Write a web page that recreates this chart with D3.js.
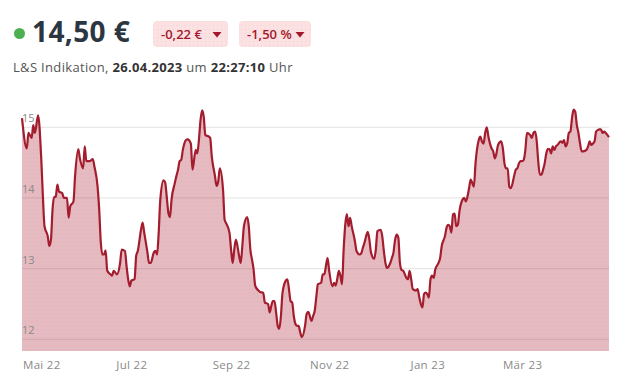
<!DOCTYPE html>
<html><head><meta charset="utf-8">
<script src="https://cdn.jsdelivr.net/npm/d3@7"></script>
<style>
body{margin:0;background:#fff;}
svg{display:block;font-family:"Open Sans","Noto Sans",sans-serif;}
</style></head>
<body>
<svg id="c" width="621" height="380"></svg>
<script>
const dates = ["2022-04-24","2022-04-27","2022-04-28","2022-04-30","2022-05-01","2022-05-02","2022-05-04","2022-05-06","2022-05-07","2022-05-08","2022-05-10","2022-05-11","2022-05-12","2022-05-13","2022-05-14","2022-05-15","2022-05-16","2022-05-17","2022-05-19","2022-05-20","2022-05-22","2022-05-23","2022-05-24","2022-05-26","2022-05-27","2022-05-29","2022-05-30","2022-06-01","2022-06-02","2022-06-03","2022-06-05","2022-06-07","2022-06-08","2022-06-10","2022-06-11","2022-06-12","2022-06-13","2022-06-14","2022-06-15","2022-06-16","2022-06-18","2022-06-19","2022-06-20","2022-06-22","2022-06-24","2022-06-25","2022-06-27","2022-06-28","2022-06-29","2022-06-30","2022-07-01","2022-07-03","2022-07-04","2022-07-05","2022-07-07","2022-07-08","2022-07-09","2022-07-11","2022-07-12","2022-07-13","2022-07-15","2022-07-16","2022-07-17","2022-07-18","2022-07-19","2022-07-21","2022-07-22","2022-07-23","2022-07-24","2022-07-25","2022-07-26","2022-07-28","2022-07-29","2022-07-30","2022-07-31","2022-08-01","2022-08-02","2022-08-04","2022-08-05","2022-08-07","2022-08-08","2022-08-10","2022-08-11","2022-08-12","2022-08-13","2022-08-14","2022-08-15","2022-08-16","2022-08-18","2022-08-19","2022-08-20","2022-08-22","2022-08-23","2022-08-24","2022-08-25","2022-08-27","2022-08-28","2022-08-29","2022-08-31","2022-09-01","2022-09-02","2022-09-03","2022-09-04","2022-09-06","2022-09-07","2022-09-08","2022-09-09","2022-09-11","2022-09-12","2022-09-13","2022-09-14","2022-09-15","2022-09-16","2022-09-18","2022-09-19","2022-09-21","2022-09-22","2022-09-24","2022-09-25","2022-09-26","2022-09-27","2022-09-28","2022-09-29","2022-09-30","2022-10-01","2022-10-02","2022-10-03","2022-10-05","2022-10-06","2022-10-07","2022-10-08","2022-10-09","2022-10-10","2022-10-11","2022-10-12","2022-10-13","2022-10-14","2022-10-15","2022-10-17","2022-10-18","2022-10-19","2022-10-21","2022-10-22","2022-10-23","2022-10-24","2022-10-25","2022-10-27","2022-10-28","2022-10-29","2022-10-30","2022-10-31","2022-11-01","2022-11-03","2022-11-04","2022-11-05","2022-11-06","2022-11-07","2022-11-08","2022-11-09","2022-11-10","2022-11-11","2022-11-12","2022-11-13","2022-11-14","2022-11-15","2022-11-17","2022-11-18","2022-11-20","2022-11-21","2022-11-22","2022-11-23","2022-11-25","2022-11-26","2022-11-27","2022-11-29","2022-11-30","2022-12-01","2022-12-03","2022-12-04","2022-12-05","2022-12-06","2022-12-07","2022-12-09","2022-12-10","2022-12-11","2022-12-12","2022-12-13","2022-12-14","2022-12-15","2022-12-16","2022-12-17","2022-12-19","2022-12-20","2022-12-21","2022-12-22","2022-12-23","2022-12-25","2022-12-26","2022-12-27","2022-12-28","2022-12-29","2022-12-30","2022-12-31","2023-01-01","2023-01-02","2023-01-03","2023-01-04","2023-01-05","2023-01-06","2023-01-08","2023-01-09","2023-01-10","2023-01-12","2023-01-13","2023-01-14","2023-01-15","2023-01-16","2023-01-17","2023-01-18","2023-01-19","2023-01-20","2023-01-21","2023-01-23","2023-01-24","2023-01-25","2023-01-26","2023-01-27","2023-01-28","2023-01-29","2023-01-30","2023-01-31","2023-02-02","2023-02-03","2023-02-04","2023-02-05","2023-02-06","2023-02-07","2023-02-08","2023-02-10","2023-02-11","2023-02-12","2023-02-13","2023-02-14","2023-02-16","2023-02-17","2023-02-18","2023-02-19","2023-02-20","2023-02-21","2023-02-22","2023-02-24","2023-02-25","2023-02-26","2023-02-27","2023-02-28","2023-03-01","2023-03-02","2023-03-03","2023-03-04","2023-03-06","2023-03-07","2023-03-08","2023-03-09","2023-03-10","2023-03-11","2023-03-12","2023-03-13","2023-03-14","2023-03-15","2023-03-16","2023-03-17","2023-03-18","2023-03-19","2023-03-20","2023-03-21","2023-03-22","2023-03-23","2023-03-25","2023-03-26","2023-03-27","2023-03-28","2023-03-29","2023-03-30","2023-03-31","2023-04-01","2023-04-02","2023-04-03","2023-04-04","2023-04-05","2023-04-06","2023-04-07","2023-04-08","2023-04-10","2023-04-11","2023-04-12","2023-04-13","2023-04-14","2023-04-15","2023-04-16","2023-04-17","2023-04-18","2023-04-19","2023-04-20","2023-04-21","2023-04-22","2023-04-24"];
const prices = [15.13,14.70,14.92,14.85,15.03,14.92,15.17,14.54,14.02,13.60,13.46,13.32,13.41,13.84,14.01,14.02,14.19,14.09,14.07,14.00,14.00,13.72,13.88,13.95,14.31,14.69,14.56,14.42,14.73,14.52,14.52,14.55,14.45,14.16,13.84,13.37,13.20,13.20,13.26,12.97,12.92,12.90,12.97,12.92,13.08,13.27,13.25,13.04,12.85,12.75,12.83,12.85,13.18,13.25,13.55,13.65,13.51,13.23,13.08,13.08,13.23,13.25,13.20,13.51,13.98,14.25,14.22,14.02,13.79,13.73,13.98,14.21,14.31,14.40,14.52,14.54,14.68,14.82,14.83,14.77,14.40,14.68,14.63,14.82,15.10,15.24,15.15,14.89,14.87,14.85,14.59,14.31,14.17,14.23,14.42,14.12,13.69,13.64,13.51,13.27,13.08,13.27,13.41,13.18,13.08,13.32,13.60,13.73,13.60,13.27,13.13,12.99,12.76,12.69,12.67,12.66,12.52,12.50,12.38,12.47,12.54,12.54,12.38,12.19,12.15,12.33,12.66,12.83,12.85,12.71,12.54,12.52,12.33,12.22,12.19,12.19,12.10,12.03,12.19,12.36,12.39,12.26,12.33,12.40,12.60,12.78,12.80,12.92,12.92,13.04,13.15,12.97,12.75,12.80,12.76,12.85,12.97,12.90,12.78,13.27,13.62,13.77,13.60,13.72,13.60,13.39,13.25,13.20,13.22,13.30,13.37,13.52,13.41,13.23,13.14,13.27,13.53,13.55,13.46,13.25,13.08,13.01,13.08,13.15,13.23,13.41,13.48,13.44,13.08,12.98,12.97,12.87,12.85,12.97,12.85,12.71,12.69,12.71,12.60,12.50,12.45,12.64,12.66,12.64,12.59,12.85,12.90,12.87,12.99,13.08,13.15,13.32,13.46,13.58,13.62,13.60,13.51,13.77,13.78,13.60,13.62,13.81,13.98,14.00,13.95,14.02,14.14,14.26,14.21,14.16,14.49,14.82,14.87,14.80,14.77,14.92,15.00,14.87,14.70,14.66,14.56,14.63,14.75,14.80,14.70,14.49,14.42,14.42,14.16,14.14,14.31,14.40,14.42,14.49,14.52,14.52,14.54,14.68,14.92,14.89,14.85,14.92,14.94,14.82,14.52,14.33,14.33,14.40,14.49,14.63,14.69,14.69,14.63,14.73,14.68,14.73,14.75,14.80,14.78,14.82,14.73,14.77,14.92,14.94,15.13,15.25,15.22,15.03,14.92,14.77,14.66,14.66,14.68,14.73,14.80,14.75,14.77,14.80,14.94,14.96,14.97,14.97,14.92,14.94,14.92,14.86];
const domainDates = ["2022-04-24","2023-04-24"];
const tickDates = ["2022-05-01","2022-07-01","2022-09-01","2022-11-01","2023-01-01","2023-03-01"];
const tickLabels = ["Mai 22","Jul 22","Sep 22","Nov 22","Jan 23","Mär 23"];
const yTicks = [12,13,14,15];
const yTickLabels = ["12","13","14","15"];
const priceText = "14,50 €";
const changeAbs = "-0,22 €";
const changePct = "-1,50 %";

const parse = d3.timeParse("%Y-%m-%d");
const data = dates.map((d,i)=>({date:parse(d), v:prices[i]}));
const svg = d3.select("#c");

const L = 22, R = 609;
const x = d3.scaleTime().domain(domainDates.map(parse)).range([L, R]);
const y = d3.scaleLinear().domain([12, 15]).range([339.3, 127.3]);
const yBase = y.invert(351);

// defs: dotted texture
const defs = svg.append("defs");
const pat = defs.append("pattern").attr("id","dots").attr("width",4).attr("height",4).attr("patternUnits","userSpaceOnUse");
pat.append("rect").attr("x",1).attr("y",1).attr("width",1).attr("height",1).attr("fill","rgba(150,20,40,0.07)");

// header
svg.append("circle").attr("cx",19.5).attr("cy",33.5).attr("r",5.5).attr("fill","#4caf50");
svg.append("text").attr("x",32).attr("y",42).attr("font-size",28).attr("font-weight",700)
  .attr("letter-spacing",0.4).attr("fill","#2b3641").text(priceText);

function badge(x0, w, txt){
  const g = svg.append("g");
  g.append("rect").attr("x",x0).attr("y",21).attr("width",w).attr("height",26).attr("rx",4).attr("fill","#fbe1e1");
  g.append("rect").attr("x",x0).attr("y",21).attr("width",w).attr("height",26).attr("rx",4).attr("fill","url(#dots)");
  g.append("text").attr("x",x0+8).attr("y",39).attr("font-size",13).attr("font-weight",600)
    .attr("fill","#a3182d").text(txt);
  const tx = x0 + w - 15.5;
  g.append("path").attr("d",`M${tx},32 L${tx+9},32 L${tx+4.5},37.5 Z`).attr("fill","#a3182d");
}
badge(153, 75, changeAbs);
badge(239, 72, changePct);

const sub = svg.append("text").attr("x",13).attr("y",72).attr("font-size",13).attr("letter-spacing",0.33).attr("fill","#555");
sub.append("tspan").text("L&S Indikation, ");
sub.append("tspan").attr("font-weight",700).attr("fill","#333").text("26.04.2023");
sub.append("tspan").text(" um ");
sub.append("tspan").attr("font-weight",700).attr("fill","#333").text("22:27:10");
sub.append("tspan").text(" Uhr");

// gridlines
const grid = svg.append("g");
grid.selectAll("line").data(yTicks).join("line")
  .attr("x1",L).attr("x2",R).attr("y1",d=>y(d)).attr("y2",d=>y(d))
  .attr("stroke","#e3e3e3").attr("stroke-width",1);

// area
const area = d3.area().x(d=>x(d.date)).y0(y(yBase)).y1(d=>y(d.v)).curve(d3.curveMonotoneX);
svg.append("path").datum(data).attr("d",area).attr("fill","rgba(168,28,45,0.30)");
svg.append("path").datum(data).attr("d",area).attr("fill","url(#dots)");

// y labels
svg.append("g").selectAll("text").data(yTicks).join("text")
  .attr("x",L).attr("y",d=>y(d)-5).attr("font-size",11).attr("fill","#8a8a8a")
  .text((d,i)=>yTickLabels[i]);

// line
const line = d3.line().x(d=>x(d.date)).y(d=>y(d.v)).curve(d3.curveMonotoneX);
svg.append("path").datum(data).attr("d",line).attr("fill","none")
  .attr("stroke","#a31d2e").attr("stroke-width",2.2).attr("stroke-linejoin","round");

// x axis
const xAxis = d3.axisBottom(x).tickValues(tickDates.map(parse))
  .tickFormat((d,i)=>tickLabels[i]).tickSize(0).tickPadding(0);
const ax = svg.append("g").attr("transform","translate(0,361)").call(xAxis);
ax.select(".domain").remove();
ax.selectAll("text").attr("font-size",11.5).attr("fill","#8a8a8a").attr("letter-spacing",0.3)
  .attr("font-family","'Open Sans','Noto Sans',sans-serif").attr("dy","0.71em");
ax.selectAll(".tick").each(function(d){
  const t = d3.select(this).select("text");
  const w = t.node().getComputedTextLength();
  const tx = x(d);
  if (tx - w/2 < L) { t.attr("text-anchor","start").attr("x", L - tx + 0.5); }
});
</script>
</body></html>
